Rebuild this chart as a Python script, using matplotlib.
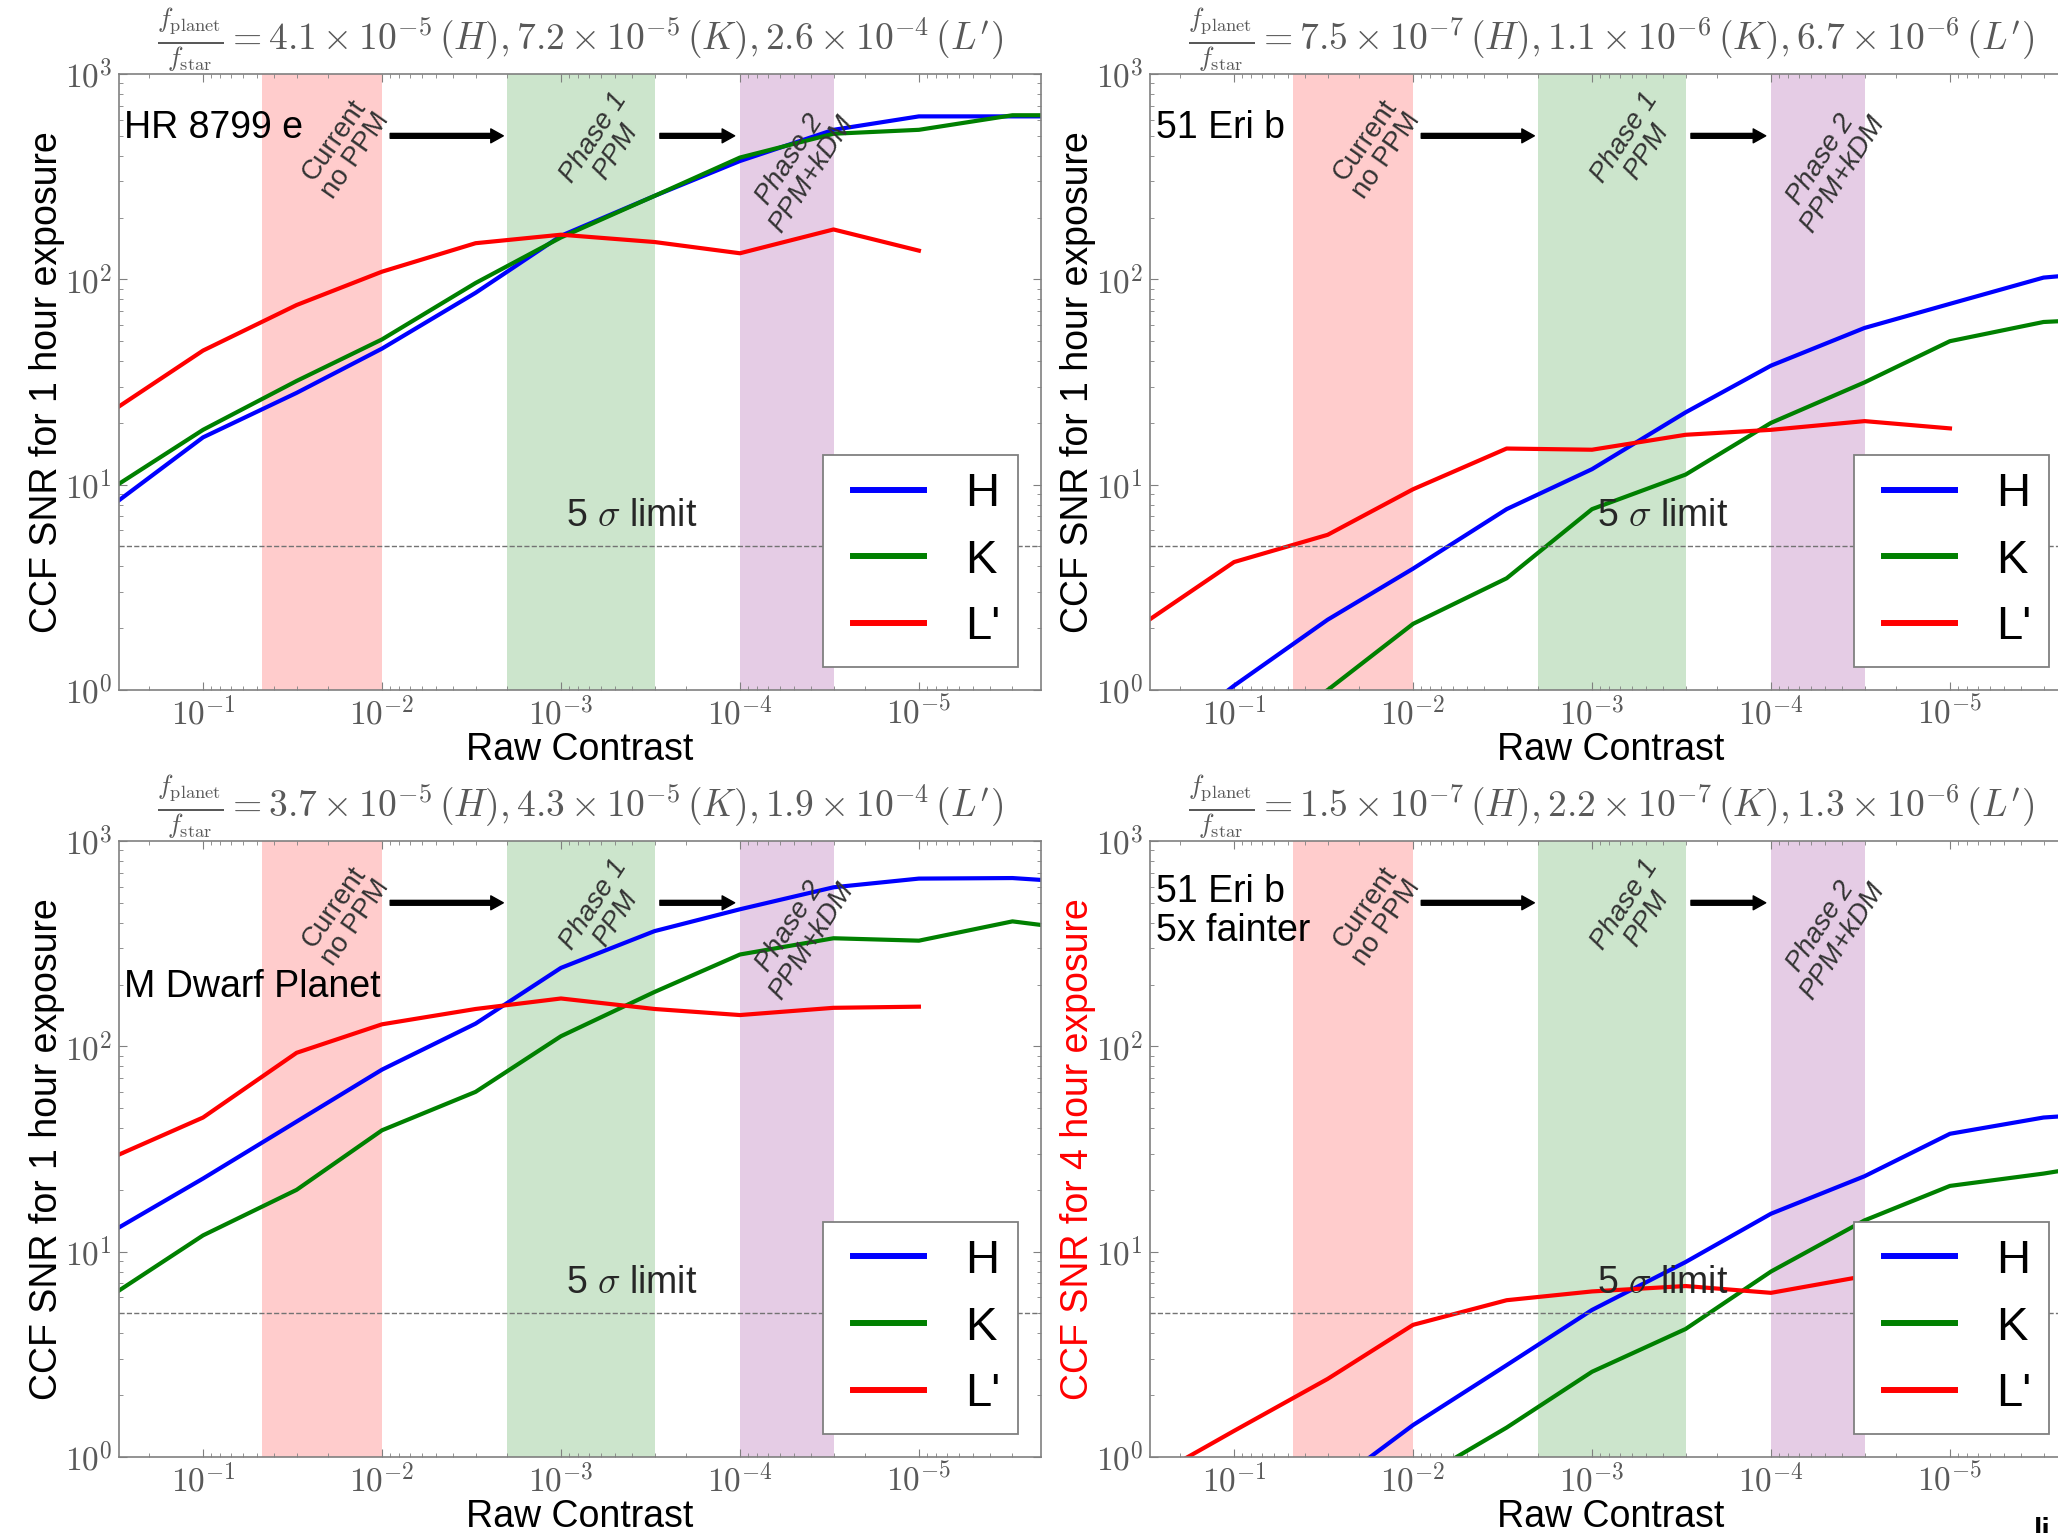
import numpy as np
import matplotlib
matplotlib.use('Agg')
import matplotlib.pyplot as plt
from matplotlib.ticker import FuncFormatter, LogLocator
from matplotlib.legend_handler import HandlerLine2D

plt.rcParams['font.family'] = ['Liberation Sans', 'DejaVu Sans']
plt.rcParams['mathtext.fontset'] = 'cm'

# raw contrast grid
contrast = [3e-1, 1e-1, 3e-2, 1e-2, 3e-3, 1e-3, 3e-4, 1e-4, 3e-5, 1e-5, 3e-6, 1e-6]
contrast_L = contrast[:10]

# HR 8799 e
hr_H = [8.3, 17, 28, 46, 86, 163, 255, 377, 535, 622, 622, 622]
hr_K = [10, 18.5, 32, 51, 96, 160, 255, 392, 512, 535, 630, 630]
hr_L = [23.8, 45, 75, 109, 150, 165, 152, 134, 175, 138]

# 51 Eri b
eri_H = [0.5, 1.05, 2.2, 3.9, 7.6, 11.9, 22.5, 38, 58, 76, 102, 111]
eri_K = [0.25, 0.5, 1.0, 2.1, 3.5, 7.6, 11.2, 20, 31.5, 50, 62, 65]
eri_L = [2.19, 4.2, 5.7, 9.5, 15, 14.8, 17.5, 18.5, 20.4, 18.8]

# M dwarf planet
md_H = [13, 22.7, 43, 77, 129, 241, 364, 465, 595, 656, 660, 620]
md_K = [6.4, 12, 20, 39, 60, 112, 184, 280, 336, 327, 406, 360]
md_L = [29.5, 45, 93, 128, 152, 171, 152, 142, 154, 156]

# 51 Eri b, 5x fainter, 4 hours
faint_H = [0.15, 0.3, 0.7, 1.43, 2.8, 5.2, 8.9, 15.3, 23.3, 37.5, 45, 48]
faint_K = [0.1, 0.2, 0.4, 0.75, 1.39, 2.6, 4.2, 8.0, 14.2, 20.9, 24, 28]
faint_L = [0.78, 1.34, 2.4, 4.4, 5.8, 6.4, 6.8, 6.3, 7.6, 8.0]

titles = [
    r'$\frac{f_{\rm planet}}{f_{\rm star}} = 4.1 \times 10^{-5}\,(H), 7.2 \times 10^{-5}\,(K), 2.6 \times 10^{-4}\,(L^\prime)$',
    r'$\frac{f_{\rm planet}}{f_{\rm star}} = 7.5 \times 10^{-7}\,(H), 1.1 \times 10^{-6}\,(K), 6.7 \times 10^{-6}\,(L^\prime)$',
    r'$\frac{f_{\rm planet}}{f_{\rm star}} = 3.7 \times 10^{-5}\,(H), 4.3 \times 10^{-5}\,(K), 1.9 \times 10^{-4}\,(L^\prime)$',
    r'$\frac{f_{\rm planet}}{f_{\rm star}} = 1.5 \times 10^{-7}\,(H), 2.2 \times 10^{-7}\,(K), 1.3 \times 10^{-6}\,(L^\prime)$',
]
names = ['HR 8799 e', '51 Eri b', 'M Dwarf Planet', '51 Eri b\n5x fainter']
name_y = [0.912, 0.912, 0.763, 0.886]
ylabels = ['CCF SNR for 1 hour exposure'] * 3 + ['CCF SNR for 4 hour exposure']
ylabel_colors = ['k', 'k', 'k', 'r']
series = [(hr_H, hr_K, hr_L), (eri_H, eri_K, eri_L),
          (md_H, md_K, md_L), (faint_H, faint_K, faint_L)]

# axes boxes (left, bottom, width, height) in figure fraction
boxes = [(0.0578, 0.5499, 0.448, 0.4018), (0.5588, 0.5499, 0.448, 0.4018),
         (0.0578, 0.0496, 0.448, 0.4018), (0.5588, 0.0496, 0.448, 0.4018)]

fig = plt.figure(figsize=(20.58, 15.33), dpi=100)

def dec_fmt(v, pos):
    return r'$10^{%d}$' % int(round(np.log10(v)))

for i in range(4):
    ax = fig.add_axes(boxes[i])
    H, K, L = series[i]

    ax.axvspan(0.047, 1e-2, color='r', alpha=0.2, lw=0)
    ax.axvspan(2e-3, 3e-4, color='g', alpha=0.2, lw=0)
    ax.axvspan(1e-4, 3e-5, color='purple', alpha=0.2, lw=0)

    ax.plot(contrast, H, color='b', lw=3, label='H')
    ax.plot(contrast, K, color='g', lw=3, label='K')
    ax.plot(contrast_L, L, color='r', lw=3, label="L'")
    ax.axhline(5, color='0.45', ls='--', lw=1)

    ax.set_xscale('log')
    ax.set_yscale('log')
    ax.set_xlim(0.295, 2.08e-6)
    ax.set_ylim(1, 1000)
    ax.xaxis.set_major_locator(LogLocator(base=10))
    ax.xaxis.set_major_formatter(FuncFormatter(dec_fmt))
    ax.yaxis.set_major_formatter(FuncFormatter(dec_fmt))
    ax.tick_params(which='both', direction='in', top=True, right=True,
                   color='0.5', labelcolor='0.35', labelsize=24, pad=5)
    ax.tick_params(which='major', length=6)
    ax.tick_params(which='minor', length=3)
    for s in ax.spines.values():
        s.set_color('0.5')
        s.set_linewidth(1.2)

    ax.set_title(titles[i], fontsize=27, color='0.35', pad=4)
    ax.set_xlabel('Raw Contrast', fontsize=27, labelpad=0)
    ax.set_ylabel(ylabels[i], fontsize=27, color=ylabel_colors[i], labelpad=0)

    ax.text(0.006, name_y[i], names[i], transform=ax.transAxes, fontsize=27,
            ha='left', va='center', linespacing=1.1)

    ax.text(0.0161, 436, 'Current\nno PPM', rotation=55, ha='center', va='center',
            fontsize=20, color='0.2', linespacing=1.0, multialignment='center')
    ax.text(5.7e-4, 451, 'Phase 1\nPPM', rotation=57, ha='center', va='center',
            fontsize=20, color='0.2', style='italic', linespacing=1.0,
            multialignment='center')
    ax.text(4.6e-5, 352, 'Phase 2\nPPM+kDM', rotation=57, ha='center', va='center',
            fontsize=20, color='0.2', style='italic', linespacing=1.0,
            multialignment='center')

    arrow = dict(facecolor='k', edgecolor='k', width=3.5, headwidth=10, headlength=9)
    ax.annotate('', xy=(2.1e-3, 500), xytext=(9e-3, 500), arrowprops=arrow)
    ax.annotate('', xy=(1.07e-4, 500), xytext=(2.8e-4, 500), arrowprops=arrow)

    ax.text(4e-4, 7, r'5 $\sigma$ limit', fontsize=27, ha='center', va='center',
            color='0.15')

    leg = ax.legend(loc='lower right', fontsize=34, handlelength=1.76,
                    handletextpad=0.87, borderpad=0.37, labelspacing=0.48,
                    borderaxespad=0.49, fancybox=False, framealpha=1,
                    edgecolor='0.5',
                    handler_map={plt.Line2D: HandlerLine2D(xpad=0.25)})
    leg.get_frame().set_linewidth(1.3)
    for ln in leg.get_lines():
        ln.set_linewidth(4.3)

fig.text(2034 / 2058, 16 / 1533, 'li', fontsize=22, weight='bold', va='top')

fig.savefig('out.png', dpi=100)
